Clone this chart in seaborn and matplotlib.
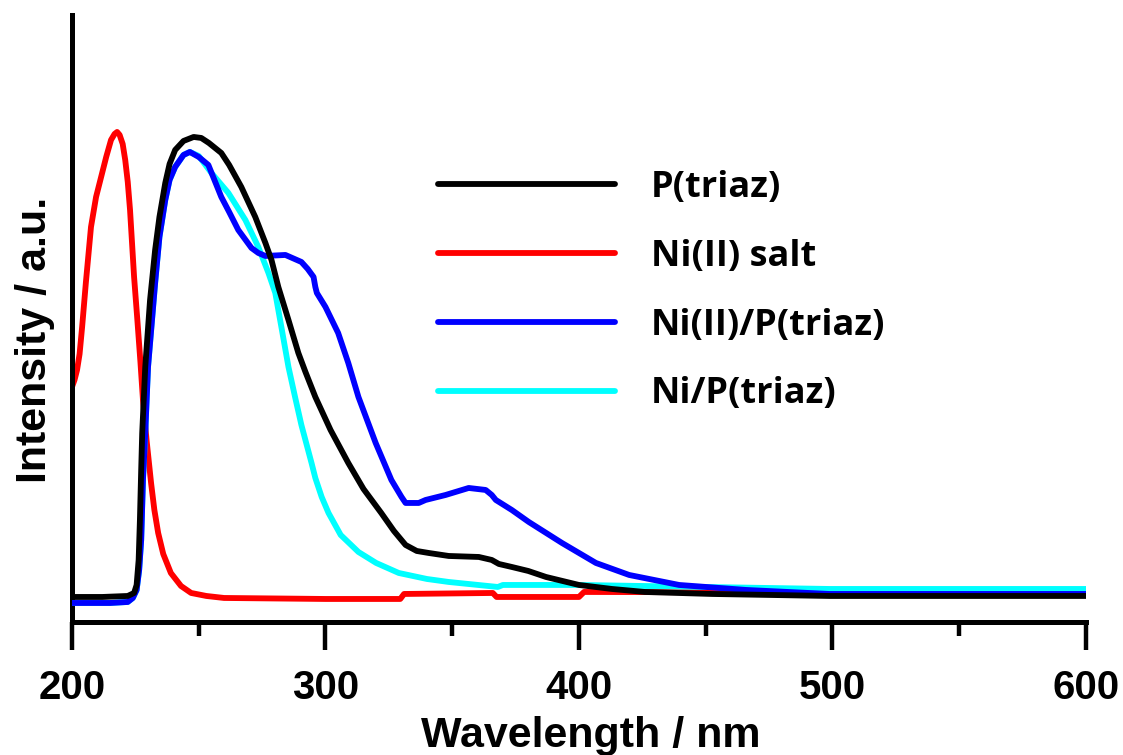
import matplotlib
matplotlib.use("Agg")
import matplotlib.pyplot as plt
import seaborn as sns
import pandas as pd
from matplotlib.ticker import MultipleLocator

# ---------------- data ----------------
wl_ptriaz = [200, 212, 222, 224.5, 225.5, 226.3, 226.8, 227.3, 227.7, 228.9, 230.8, 232.8,
             234.5, 236.8, 238.5, 240.7, 244, 248, 251, 254, 258.9, 262, 266.8, 272.3,
             276.3, 278.7, 281.4, 285.4, 289.3, 292.1, 296, 302, 309, 315, 322, 327,
             331.6, 336, 340.7, 348.6, 360.5, 365.6, 368.4, 373.5, 380, 387, 400, 413,
             426, 452.6, 499, 600]
int_ptriaz = [0.25, 0.25, 0.26, 0.29, 0.37, 0.62, 1.02, 1.52, 1.89, 2.55, 3.22, 3.72,
              4.05, 4.39, 4.58, 4.72, 4.81, 4.85, 4.84, 4.79, 4.69, 4.57, 4.35, 4.05,
              3.79, 3.62, 3.35, 3.02, 2.69, 2.50, 2.25, 1.92, 1.59, 1.33, 1.09, 0.91,
              0.77, 0.71, 0.69, 0.66, 0.65, 0.62, 0.58, 0.55, 0.51, 0.45, 0.37, 0.33,
              0.30, 0.28, 0.26, 0.26]

wl_salt = [200, 201, 202, 203, 204, 205.5, 207.5, 209.5, 211.5, 213.5, 215.4, 216.8,
           217.8, 218.8, 220, 221, 222, 222.9, 224.5, 225.7, 227, 228, 229.5, 231.2,
           232.5, 234, 236, 239, 243, 247, 253, 260, 300, 329.5, 331, 366, 367.5, 400,
           402, 600]
int_salt = [2.35, 2.42, 2.52, 2.68, 2.95, 3.40, 3.95, 4.25, 4.45, 4.65, 4.82, 4.88,
            4.90, 4.87, 4.78, 4.62, 4.40, 4.12, 3.45, 3.05, 2.60, 2.22, 1.80, 1.39,
            1.12, 0.89, 0.68, 0.49, 0.36, 0.29, 0.26, 0.24, 0.23, 0.23, 0.28, 0.29,
            0.25, 0.25, 0.30, 0.29]

wl_ni2 = [200, 215, 222, 224, 225.5, 226.5, 227.3, 228, 228.9, 230, 232.8, 234.5,
          236.8, 238.5, 240.7, 244, 246.5, 250, 253.8, 258.9, 262, 265.6, 270.8,
          273.5, 276.3, 284.2, 290.5, 293, 295.3, 296, 296.6, 300, 305, 309, 313,
          319.8, 326, 330, 331.6, 336.8, 339.5, 347.4, 356.5, 363.2, 365.6, 367.2,
          373.5, 380.2, 393.3, 406.7, 419.8, 439.5, 466, 498.8, 600]
int_ni2 = [0.19, 0.19, 0.20, 0.24, 0.32, 0.52, 0.82, 1.42, 1.89, 2.55, 3.39, 3.85,
           4.22, 4.42, 4.55, 4.67, 4.70, 4.65, 4.57, 4.25, 4.10, 3.92, 3.74,
           3.69, 3.66, 3.67, 3.60, 3.53, 3.45, 3.35, 3.29, 3.15, 2.89, 2.59, 2.25,
           1.79, 1.42, 1.25, 1.19, 1.19, 1.22, 1.27, 1.34, 1.32, 1.27, 1.22,
           1.12, 1.00, 0.79, 0.59, 0.47, 0.37, 0.32, 0.28, 0.28]

wl_ni0 = [200, 215, 222, 224, 225.5, 226.5, 227.3, 228, 228.9, 230, 232.8, 234.5,
          236.8, 238.5, 240.7, 244, 246.5, 250, 255, 261.7, 268.4, 273.5, 277.5,
          280.2, 282.6, 285.4, 288, 290.5, 294.5, 296, 298.5, 301.2, 306, 313, 320,
          328.9, 340, 348.6, 368, 370, 400, 499, 600]
int_ni0 = [0.19, 0.19, 0.20, 0.24, 0.32, 0.52, 0.82, 1.42, 1.89, 2.55, 3.39, 3.85,
           4.22, 4.42, 4.55, 4.67, 4.70, 4.66, 4.49, 4.29, 4.02, 3.75, 3.49,
           3.29, 2.95, 2.55, 2.25, 1.97, 1.59, 1.44, 1.25, 1.09, 0.87, 0.70, 0.59,
           0.49, 0.43, 0.40, 0.35, 0.37, 0.37, 0.33, 0.33]

labels = ["P(triaz)", "Ni(II) salt", "Ni(II)/P(triaz)", "Ni/P(triaz)"]
colors = ["#000000", "#ff0000", "#0000ff", "#00ffff"]
x_ticks = [200, 300, 400, 500, 600]

# ---------------- style ----------------
sns.set_style("ticks")
plt.rcParams["font.family"] = ["Liberation Sans", "DejaVu Sans"]
plt.rcParams["font.weight"] = "bold"
for k in ["text.color", "axes.edgecolor", "axes.labelcolor", "xtick.color", "ytick.color"]:
    plt.rcParams[k] = "black"

fig = plt.figure(figsize=(11.23, 7.55), dpi=100)
ax = fig.add_axes([0.0641, 0.1762, 0.9029, 0.8040])

series = [
    (wl_salt, int_salt, labels[1], colors[1], 2),
    (wl_ni0, int_ni0, labels[3], colors[3], 3),
    (wl_ni2, int_ni2, labels[2], colors[2], 4),
    (wl_ptriaz, int_ptriaz, labels[0], colors[0], 5),
]
handles = {}
for wl, it, lab, col, z in series:
    df = pd.DataFrame({"wl": wl, "I": it})
    sns.lineplot(data=df, x="wl", y="I", ax=ax, color=col, linewidth=4.2,
                 estimator=None, sort=False, label=lab, zorder=z, legend=False)
    ln = ax.get_lines()[-1]
    ln.set_solid_joinstyle("round")
    ln.set_solid_capstyle("round")
    handles[lab] = ln

ax.set_xlim(200, 600)
ax.set_ylim(0, 6.07)
ax.set_xticks(x_ticks)
ax.xaxis.set_minor_locator(MultipleLocator(50))
ax.set_yticks([])

for s in ["top", "right"]:
    ax.spines[s].set_visible(False)
for s in ["left", "bottom"]:
    ax.spines[s].set_linewidth(3.6)
    ax.spines[s].set_color("black")

ax.tick_params(axis="x", which="major", direction="out", length=20, width=3.2,
               pad=14, labelsize=29, colors="black")
ax.tick_params(axis="x", which="minor", direction="out", length=10, width=3.2,
               colors="black")
for t in ax.get_xticklabels():
    t.set_fontweight("bold")

ax.set_xlabel("Wavelength / nm", fontsize=31, fontweight="bold", color="black")
ax.set_ylabel("Intensity / a.u.", fontsize=31, fontweight="bold", color="black")
ax.xaxis.set_label_coords(0.512, -0.155)
ax.yaxis.set_label_coords(-0.017, 0.465)

leg = ax.legend([handles[l] for l in labels], labels, frameon=False,
                loc="upper left", bbox_to_anchor=(0.390, 0.775),
                bbox_transform=fig.transFigure, borderpad=0, borderaxespad=0,
                handlelength=4.9, handletextpad=1.0, labelspacing=0.91,
                prop={"family": ["Open Sans", "DejaVu Sans"], "weight": "bold", "size": 26})
for ln in leg.get_lines():
    ln.set_linewidth(4.2)
for t in leg.get_texts():
    t.set_color("black")

fig.savefig("out.png", dpi=100, facecolor="white")
